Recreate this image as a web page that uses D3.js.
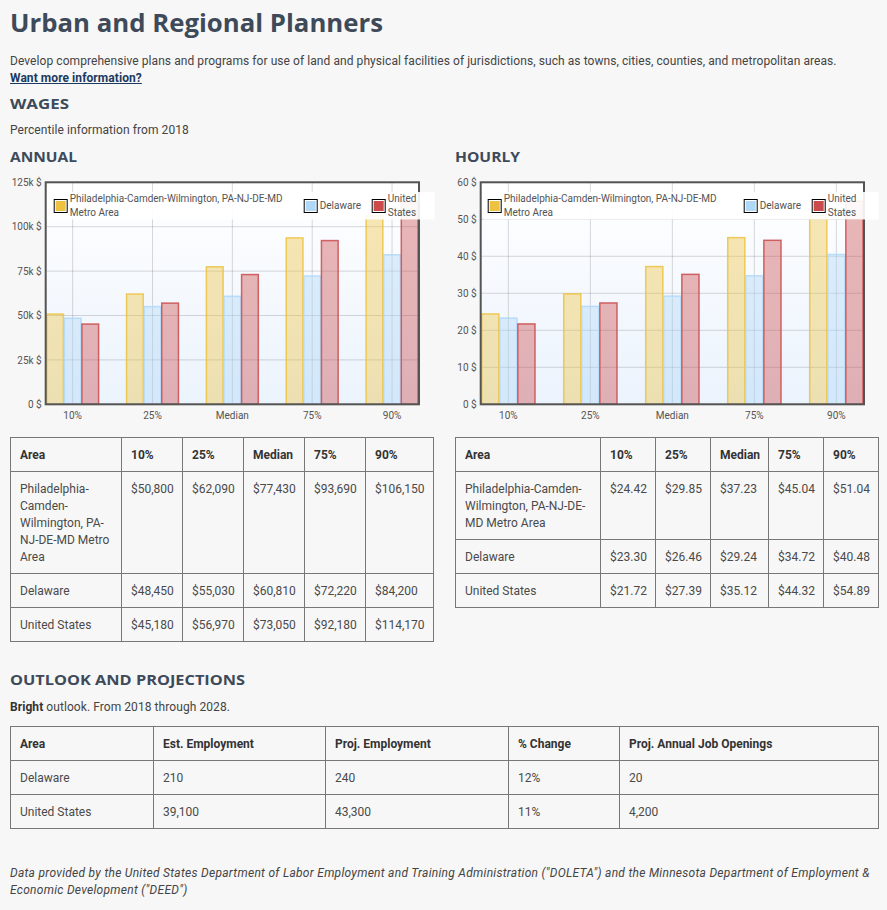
<!DOCTYPE html>
<html>
<head>
<meta charset="utf-8">
<script src="https://cdn.jsdelivr.net/npm/d3@7"></script>
<style>
  body { margin: 0; background: #f7f7f7; font-family: Roboto, sans-serif; font-size: 12px; color: #444; }
  .blk { position: absolute; left: 10px; margin: 0; }
  .hd { font-family: "Open Sans", sans-serif; font-weight: 700; color: #3e4a59; white-space: nowrap; }
  .hd span { display: inline-block; transform-origin: 0 50%; }
  .txt { line-height: 17px; letter-spacing: 0.07px; }
  a { color: #1c3a60; font-weight: 700; text-decoration: underline; }
  table { border-collapse: collapse; table-layout: fixed; }
  td, th { border: 1px solid #777; padding: 9px 9px 7px 9px; line-height: 17px; vertical-align: top; text-align: left; font-size: 12px; }
  th { font-weight: 700; color: #333; }
  td { color: #4a4a4a; }
  .chart { position: absolute; top: 170px; }
  .chart text { font-family: Roboto, sans-serif; }
</style>
</head>
<body>
<div class="blk hd" style="top:7px;font-size:25px;line-height:30px;"><span id="t-title">Urban and Regional Planners</span></div>
<div class="blk txt" style="top:53px;">Develop comprehensive plans and programs for use of land and physical facilities of jurisdictions, such as towns, cities, counties, and metropolitan areas.<br><a href="#">Want more information?</a></div>
<div class="blk hd" style="top:94px;font-size:14px;line-height:20px;"><span id="t-wages">WAGES</span></div>
<div class="blk txt" style="top:121.5px;">Percentile information from 2018</div>
<div class="blk hd" style="top:147px;font-size:14px;line-height:20px;"><span id="t-annual">ANNUAL</span></div>
<div class="blk hd" style="top:147px;left:455px;font-size:14px;line-height:20px;"><span id="t-hourly">HOURLY</span></div>
<div id="annual-chart" class="chart" style="left:0px;"></div>
<div id="hourly-chart" class="chart" style="left:445px;"></div>
<div id="annual-table" class="blk" style="top:437px;"></div>
<div id="hourly-table" class="blk" style="top:437px;left:455px;"></div>
<div class="blk hd" style="top:670px;font-size:14px;line-height:20px;"><span id="t-outlook">OUTLOOK AND PROJECTIONS</span></div>
<div class="blk txt" style="top:699px;"><b style="color:#333">Bright</b> outlook. From 2018 through 2028.</div>
<div id="outlook-table" class="blk" style="top:726px;"></div>
<div class="blk txt" style="top:865px;width:868px;font-style:italic;color:#444;letter-spacing:0.28px;">Data provided by the United States Department of Labor Employment and Training Administration ("DOLETA") and the Minnesota Department of Employment &amp; Economic Development ("DEED")</div>
<script>
// 百分位类别
var percentiles = ['10%', '25%', 'Median', '75%', '90%'];
// 地区
var areas = ['Philadelphia-Camden-Wilmington, PA-NJ-DE-MD Metro Area', 'Delaware', 'United States'];
var legendLines = [['Philadelphia-Camden-Wilmington, PA-NJ-DE-MD', 'Metro Area'], ['Delaware'], ['United', 'States']];
var seriesColors = ['#edc240', '#afd8f8', '#cb4b4b'];

// 年薪
var annualPhilly = [50800, 62090, 77430, 93690, 106150];
var annualDelaware = [48450, 55030, 60810, 72220, 84200];
var annualUS = [45180, 56970, 73050, 92180, 114170];
var annualTicks = [0, 25000, 50000, 75000, 100000, 125000];

// 时薪
var hourlyPhilly = [24.42, 29.85, 37.23, 45.04, 51.04];
var hourlyDelaware = [23.30, 26.46, 29.24, 34.72, 40.48];
var hourlyUS = [21.72, 27.39, 35.12, 44.32, 54.89];
var hourlyTicks = [0, 10, 20, 30, 40, 50, 60];

// 就业前景
var outlookHeaders = ['Area', 'Est. Employment', 'Proj. Employment', '% Change', 'Proj. Annual Job Openings'];
var outlookAreas = ['Delaware', 'United States'];
var estEmployment = [210, 39100];
var projEmployment = [240, 43300];
var pctChange = [12, 11];
var jobOpenings = [20, 4200];

function drawChart(id, series, ticks, fmt, opt) {
  var svg = d3.select(id).append('svg')
    .attr('width', opt.width)
    .attr('height', 260);

  var x = d3.scaleBand()
    .domain(percentiles)
    .range([opt.left + 1, opt.right - 1])
    .paddingInner(0.35)
    .paddingOuter(0);
  var xs = d3.scaleBand()
    .domain(d3.range(series.length))
    .range([0, x.bandwidth()])
    .paddingInner(0.05);
  var y = d3.scaleLinear()
    .domain([0, d3.max(ticks)])
    .range([opt.bottom, opt.top]);

  // 背景渐变
  var gid = id.slice(1) + '-bg';
  var grad = svg.append('defs').append('linearGradient')
    .attr('id', gid).attr('x1', 0).attr('y1', 0).attr('x2', 0).attr('y2', 1);
  grad.append('stop').attr('offset', '0%').attr('stop-color', '#ffffff');
  grad.append('stop').attr('offset', '100%').attr('stop-color', '#ebf3fd');
  svg.append('rect')
    .attr('x', opt.left).attr('y', opt.top)
    .attr('width', opt.right - opt.left).attr('height', opt.bottom - opt.top)
    .attr('fill', 'url(#' + gid + ')');

  // 网格线
  svg.append('g').selectAll('line')
    .data(ticks)
    .join('line')
    .attr('x1', opt.left).attr('x2', opt.right)
    .attr('y1', d => y(d)).attr('y2', d => y(d))
    .attr('stroke', '#545454').attr('stroke-opacity', 0.22);
  svg.append('g').selectAll('line')
    .data(percentiles)
    .join('line')
    .attr('x1', d => x(d) + x.bandwidth() / 2).attr('x2', d => x(d) + x.bandwidth() / 2)
    .attr('y1', opt.top).attr('y2', opt.bottom)
    .attr('stroke', '#545454').attr('stroke-opacity', 0.22);

  // 柱子
  series.forEach(function (vals, si) {
    svg.append('g').selectAll('rect')
      .data(vals)
      .join('rect')
      .attr('x', (d, i) => x(percentiles[i]) + xs(si))
      .attr('y', d => y(d))
      .attr('width', xs.bandwidth())
      .attr('height', d => y(0) - y(d))
      .attr('fill', seriesColors[si])
      .attr('fill-opacity', 0.4)
      .attr('stroke', seriesColors[si])
      .attr('stroke-opacity', 0.85)
      .attr('stroke-width', 1.5);
  });

  // 边框
  svg.append('rect')
    .attr('x', opt.left).attr('y', opt.top)
    .attr('width', opt.right - opt.left).attr('height', opt.bottom - opt.top)
    .attr('fill', 'none').attr('stroke', '#545454').attr('stroke-width', 2);

  // y轴
  var yAxis = svg.append('g')
    .attr('transform', `translate(${opt.left - 1},0)`)
    .call(d3.axisLeft(y).tickValues(ticks).tickFormat(fmt).tickSize(0).tickPadding(3));
  yAxis.select('.domain').remove();
  yAxis.selectAll('text').attr('fill', '#545454').style('font-size', '10px');

  // x轴
  var xAxis = svg.append('g')
    .attr('transform', `translate(0,${opt.bottom})`)
    .call(d3.axisBottom(x).tickSize(0).tickPadding(8));
  xAxis.select('.domain').remove();
  xAxis.selectAll('text').attr('fill', '#545454').style('font-size', '10px');

  // 图例
  var lg = svg.append('g');
  lg.append('rect')
    .attr('x', opt.left + 3).attr('y', 22)
    .attr('width', opt.legendWidth).attr('height', 27.5)
    .attr('fill', '#ffffff').attr('fill-opacity', 0.9);
  legendLines.forEach(function (lines, i) {
    var sx = opt.left + opt.legendX[i];
    lg.append('rect')
      .attr('x', sx + 0.5).attr('y', 29.5)
      .attr('width', 13).attr('height', 13)
      .attr('fill', '#fff').attr('stroke', '#000').attr('stroke-width', 1);
    lg.append('rect')
      .attr('x', sx + 2).attr('y', 31)
      .attr('width', 10).attr('height', 10)
      .attr('fill', seriesColors[i]);
    var cy = lines.length === 1 ? [35.8] : [28.8, 42.6];
    lg.selectAll(null)
      .data(lines)
      .join('text')
      .attr('x', sx + 16)
      .attr('y', (d, j) => cy[j])
      .attr('dy', '0.35em')
      .attr('fill', '#545454')
      .style('font-size', '10px')
      .text(d => d);
  });
}

function makeTable(id, headers, rows, widths) {
  var table = d3.select(id).append('table')
    .style('width', d3.sum(widths) + 'px');
  table.append('colgroup').selectAll('col')
    .data(widths)
    .join('col')
    .style('width', d => d + 'px');
  table.append('tr').selectAll('th')
    .data(headers)
    .join('th')
    .text(d => d);
  table.selectAll('tr.row')
    .data(rows)
    .join('tr')
    .attr('class', 'row')
    .selectAll('td')
    .data(d => d)
    .join('td')
    .text(d => d);
}

var annualFmt = d => d === 0 ? '0 $' : (d / 1000) + 'k $';
var hourlyFmt = d => d + ' $';

drawChart('#annual-chart', [annualPhilly, annualDelaware, annualUS], annualTicks, annualFmt,
  { width: 440, left: 45.7, right: 419, top: 12.3, bottom: 234.3, legendWidth: 386, legendX: [8, 258, 326] });
drawChart('#hourly-chart', [hourlyPhilly, hourlyDelaware, hourlyUS], hourlyTicks, hourlyFmt,
  { width: 442, left: 35.7, right: 419, top: 12.3, bottom: 234.3, legendWidth: 395, legendX: [7, 263, 331] });

var dollar = d3.format(',');
var hourFmt = d3.format('.2f');
var tableHeaders = ['Area'].concat(percentiles);
makeTable('#annual-table', tableHeaders,
  [annualPhilly, annualDelaware, annualUS].map((s, i) => [areas[i]].concat(s.map(v => '$' + dollar(v)))),
  [111, 61, 61, 61, 61, 68]);
makeTable('#hourly-table', tableHeaders,
  [hourlyPhilly, hourlyDelaware, hourlyUS].map((s, i) => [areas[i]].concat(s.map(v => '$' + hourFmt(v)))),
  [145, 55, 55, 58, 55, 55]);
makeTable('#outlook-table', outlookHeaders,
  outlookAreas.map((a, i) => [a, dollar(estEmployment[i]), dollar(projEmployment[i]), pctChange[i] + '%', dollar(jobOpenings[i])]),
  [143, 172, 183, 111, 259]);

// 标题宽度拉伸到和原图一致
function fitWidth(id, target) {
  var el = document.getElementById(id);
  var w = el.getBoundingClientRect().width;
  el.style.transform = 'scaleX(' + (target / w) + ')';
}
fitWidth('t-title', 373);
fitWidth('t-wages', 59);
fitWidth('t-annual', 67);
fitWidth('t-hourly', 65);
fitWidth('t-outlook', 235);
</script>
</body>
</html>
